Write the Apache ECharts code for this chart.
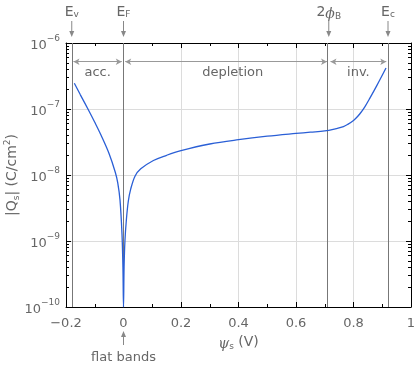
<!DOCTYPE html>
<html>
<head>
<meta charset="utf-8">
<script src="https://cdn.jsdelivr.net/npm/echarts@6/dist/echarts.min.js"></script>
<style>
  html, body { margin: 0; padding: 0; background: #fff; }
  #chart { width: 416px; height: 366px; }
</style>
</head>
<body>
<div id="chart"></div>
<script>
// Surface potential psi_s (V) and surface charge |Q_s| (C/cm^2)
const psiS = [
  -0.171, -0.15, -0.121, -0.10, -0.078, -0.05, -0.0286, -0.02, -0.0122, -0.0052, -0.002, 0,
  0.002, 0.005, 0.01, 0.0167, 0.025, 0.04, 0.06, 0.104, 0.15, 0.2, 0.3, 0.4, 0.5, 0.6, 0.65,
  0.7, 0.74, 0.765, 0.78, 0.8, 0.81, 0.823, 0.84, 0.857, 0.881, 0.913
];
const qS = [
  2.45e-7, 1.64e-7, 9.5e-8, 6.3e-8, 4.0e-8, 2.1e-8, 1.1e-8, 7.6e-9, 4.2e-9, 1.26e-9, 4.0e-10, 1.0e-10,
  4.0e-10, 1.0e-9, 2.1e-9, 4.0e-9, 6.1e-9, 9.6e-9, 1.24e-8, 1.66e-8, 1.99e-8, 2.34e-8, 2.95e-8, 3.43e-8, 3.87e-8, 4.26e-8, 4.45e-8,
  4.65e-8, 5.05e-8, 5.4e-8, 5.85e-8, 6.71e-8, 7.36e-8, 8.55e-8, 1.09e-7, 1.46e-7, 2.26e-7, 4.18e-7
];

// Energy levels marked above the plot
const levelLabels = ['E{s|v}', 'E{s|F}', '2{i|ϕ}{s|B}', 'E{s|c}'];
const levelPsi = [-0.18, 0, 0.714, 0.92];

// Operating regions between the levels
const regionLabels = ['acc.', 'depletion', 'inv.'];
const regionFrom = [-0.18, 0, 0.714];
const regionTo = [0, 0.714, 0.92];
const regionLabelPsi = [-0.09, 0.38, 0.817];
const regionArrowQ = 5.2e-7;
const regionTextQ = 3.5e-7;

// Axis ticks
const xTicks = [-0.2, 0, 0.2, 0.4, 0.6, 0.8, 1];
const yExponents = [-10, -9, -8, -7, -6];
const yMinorMantissas = [2, 3, 4, 5, 6, 7, 8, 9];

const FONT = 'DejaVu Sans';
const TXT = '#666';
const GRAYLINE = '#777';

const yMinorValues = [];
for (let e = yExponents[0]; e < yExponents[yExponents.length - 1]; e++) {
  yMinorMantissas.forEach(m => yMinorValues.push(m * Math.pow(10, e)));
}

const curve = psiS.map((p, i) => [p, qS[i]]);

const chart = echarts.init(document.getElementById('chart'), null, { renderer: 'canvas' });

const fmtX = v => {
  const r = Math.round(v * 10) / 10;
  if (r === 0) return '0';
  return String(r).replace('-', '−');
};

const baseX = {
  type: 'value', min: xTicks[0], max: xTicks[xTicks.length - 1], interval: 0.2,
  axisLine: { show: true, onZero: false, lineStyle: { color: '#000', width: 1 } },
  axisTick: { show: true, inside: true, length: 5, lineStyle: { color: '#000' } },
  minorTick: { show: true, splitNumber: 2, length: 3, lineStyle: { color: '#000' } },
  splitLine: { show: false },
  axisLabel: { show: false }
};

const baseY = {
  type: 'log', logBase: 10, min: Math.pow(10, yExponents[0]), max: Math.pow(10, yExponents[yExponents.length - 1]),
  axisLine: { show: true, onZero: false, lineStyle: { color: '#000', width: 1 } },
  axisTick: { show: true, inside: true, length: 5, lineStyle: { color: '#000' } },
  splitLine: { show: false },
  axisLabel: { show: false }
};

const minorY = {
  type: 'log', logBase: 10, min: Math.pow(10, yExponents[0]), max: Math.pow(10, yExponents[yExponents.length - 1]),
  axisLine: { show: false, onZero: false },
  axisTick: { show: true, inside: true, length: 3, customValues: yMinorValues, lineStyle: { color: '#000' } },
  splitLine: { show: false },
  axisLabel: { show: false }
};

const option = {
  animation: false,
  backgroundColor: '#fff',
  textStyle: { fontFamily: FONT },
  grid: { left: 66, right: 5, top: 43, bottom: 59, containLabel: false, outerBoundsMode: 'none' },
  xAxis: [
    Object.assign({}, baseX, {
      position: 'bottom',
      splitLine: { show: true, lineStyle: { color: '#dcdcdc', width: 1 } },
      axisLabel: { show: true, color: TXT, fontSize: 13, fontFamily: FONT, margin: 10, formatter: fmtX },
      name: '{i|ψ}{s|s} (V)',
      nameLocation: 'middle',
      nameGap: 26,
      nameMoveOverlap: false,
      nameTextStyle: {
        color: TXT, fontFamily: FONT, fontSize: 14,
        rich: {
          i: { fontSize: 14, fontStyle: 'italic', fontFamily: 'DejaVu Serif', color: TXT, lineHeight: 18, verticalAlign: 'bottom' },
          s: { fontSize: 9, color: TXT, lineHeight: 14, verticalAlign: 'bottom' }
        }
      }
    }),
    Object.assign({}, baseX, { position: 'top' })
  ],
  yAxis: [
    Object.assign({}, baseY, {
      position: 'left',
      splitLine: { show: true, lineStyle: { color: '#dcdcdc', width: 1 } },
      axisLabel: {
        show: true, margin: 6, color: TXT, fontFamily: FONT,
        formatter: v => '{b|10}{sup|' + String(Math.round(Math.log10(v))).replace('-', '−') + '}',
        rich: {
          b: { fontSize: 13, color: TXT, lineHeight: 18, verticalAlign: 'bottom' },
          sup: { fontSize: 9, color: TXT, lineHeight: 18, verticalAlign: 'top' }
        }
      },
      name: '|Q{s|s}| (C/cm{sup|2})',
      nameLocation: 'middle',
      nameGap: 45,
      nameRotate: 90,
      nameMoveOverlap: false,
      nameTextStyle: {
        color: TXT, fontFamily: FONT, fontSize: 14,
        rich: {
          s: { fontSize: 9, color: TXT, lineHeight: 16, verticalAlign: 'bottom' },
          sup: { fontSize: 9, color: TXT, lineHeight: 18, verticalAlign: 'top' }
        }
      }
    }),
    Object.assign({}, baseY, { position: 'right' }),
    Object.assign({}, minorY, { position: 'left' }),
    Object.assign({}, minorY, { position: 'right' })
  ],
  series: [
    {
      name: 'Qs',
      type: 'line',
      xAxisIndex: 0,
      yAxisIndex: 0,
      data: curve,
      showSymbol: false,
      smooth: 0.35,
      clip: true,
      lineStyle: { color: '#2a5fd6', width: 1.3 },
      itemStyle: { color: '#2a5fd6' },
      z: 5,
      markLine: {
        silent: true,
        symbol: ['none', 'none'],
        label: { show: false },
        lineStyle: { color: GRAYLINE, width: 1, type: 'solid' },
        data: levelPsi.map(p => ({ xAxis: p }))
      }
    },
    {
      name: 'regions',
      type: 'line',
      xAxisIndex: 0,
      yAxisIndex: 0,
      data: [],
      markLine: {
        silent: true,
        symbol: ['arrow', 'arrow'],
        symbolSize: [5, 6],
        lineStyle: { color: '#999', width: 1, type: 'solid' },
        label: { show: false },
        data: regionFrom.map((f, i) => [
          { coord: [f + 0.006, regionArrowQ] },
          { coord: [regionTo[i] - 0.006, regionArrowQ] }
        ])
      },
      markPoint: {
        silent: true,
        symbol: 'rect',
        symbolSize: 0,
        label: { show: true, color: TXT, fontSize: 13, fontFamily: FONT, formatter: p => p.name, position: 'inside' },
        data: regionLabels.map((t, i) => ({ name: t, coord: [regionLabelPsi[i], regionTextQ] }))
      }
    }
  ]
};

chart.setOption(option);

// Level markers and the flat-band pointer, placed through the x scale
function arrowDown(x, y0, y1) {
  return [
    { type: 'line', shape: { x1: x, y1: y0, x2: x, y2: y1 - 4 }, style: { stroke: '#888', lineWidth: 1 } },
    { type: 'polygon', shape: { points: [[x - 2.5, y1 - 6], [x + 2.5, y1 - 6], [x, y1]] }, style: { fill: '#888' } }
  ];
}
function arrowUp(x, y0, y1) {
  return [
    { type: 'line', shape: { x1: x, y1: y0, x2: x, y2: y1 + 4 }, style: { stroke: '#888', lineWidth: 1 } },
    { type: 'polygon', shape: { points: [[x - 2.5, y1 + 6], [x + 2.5, y1 + 6], [x, y1]] }, style: { fill: '#888' } }
  ];
}

const graphics = [];
const textRich = {
  s: { fontSize: 9, fill: TXT, fontFamily: FONT, lineHeight: 14, verticalAlign: 'bottom' },
  i: { fontSize: 14, fill: TXT, fontFamily: 'DejaVu Serif', fontStyle: 'italic', lineHeight: 18, verticalAlign: 'bottom' }
};
levelPsi.forEach((p, i) => {
  const x = chart.convertToPixel({ xAxisIndex: 0 }, p);
  graphics.push({
    type: 'text', x: x, y: 12,
    style: { text: levelLabels[i], fill: TXT, fontSize: 14, fontFamily: FONT, align: 'center', verticalAlign: 'middle', rich: textRich }
  });
  arrowDown(x, 21, 37).forEach(g => graphics.push(g));
});
const x0 = chart.convertToPixel({ xAxisIndex: 0 }, 0);
arrowUp(x0, 345, 331).forEach(g => graphics.push(g));
graphics.push({
  type: 'text', x: x0, y: 358,
  style: { text: 'flat bands', fill: TXT, fontSize: 13, fontFamily: FONT, align: 'center', verticalAlign: 'middle' }
});

chart.setOption({ graphic: graphics });
</script>
</body>
</html>
